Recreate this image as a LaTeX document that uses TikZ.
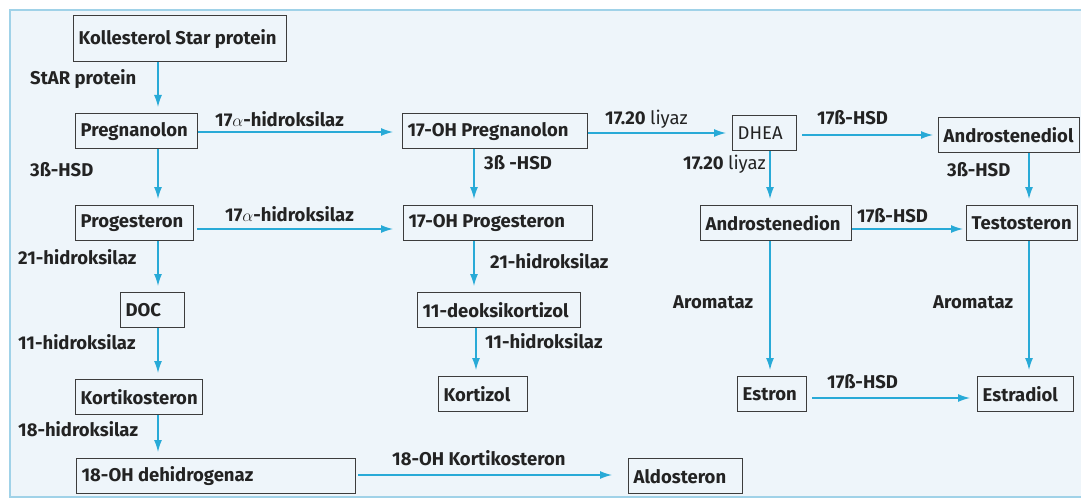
\documentclass[tikz,border=0pt]{standalone}
\usepackage{fontspec}
\setmainfont{Fira Sans}
\usetikzlibrary{arrows.meta}
\definecolor{panel}{RGB}{238,245,250}
\definecolor{framec}{RGB}{160,210,232}
\definecolor{arrblue}{RGB}{40,170,215}
\definecolor{boxline}{RGB}{60,60,60}
\definecolor{txt}{RGB}{35,35,35}
\newcommand{\bt}[2]{\makebox[#1pt][l]{#2}}
\begin{document}
\begin{tikzpicture}[x=1pt,y=-1pt,
  every node/.style={font=\fontsize{18.5}{21}\selectfont\bfseries, text=txt},
  bx/.style={draw=boxline, line width=1.3pt, fill=panel, anchor=north west, inner xsep=5pt, inner ysep=0pt, minimum height=35pt},
  lab/.style={anchor=base west, inner sep=0pt},
  arr/.style={draw=arrblue, line width=1.3pt, -{Latex[length=12pt,width=8pt]}, shorten >=6pt}]
\useasboundingbox (0,0) rectangle (1081,500);
\clip (0,0) rectangle (1081,500);
\fill[white] (0,0) rectangle (1081,500);
\draw[framec, line width=2pt, fill=panel] (10,10) rectangle (1100,497);
% columns and rows
\coordinate (c1) at (158,0);
\coordinate (c2) at (474,0);
\coordinate (c2b) at (476,0);
\coordinate (c3) at (770,0);
\coordinate (c4) at (1029,0);
\coordinate (r1) at (0,132);
\coordinate (r1b) at (0,133);
\coordinate (r1c) at (0,135);
\coordinate (r2) at (0,229);
\coordinate (r3) at (0,398);
\coordinate (r4) at (0,475);
% boxes
\node[bx, minimum height=46pt] (kol) at (73,15) {\bt{203}{Kollesterol Star protein}};
\node[bx] (preg) at (75,113) {\bt{112}{Pregnanolon}};
\node[bx] (ohpreg) at (402,113) {\bt{175}{17-OH Pregnanolon}};
\node[bx] (dhea) at (732,115) {\bt{54}{\mdseries DHEA}};
\node[bx] (adiol) at (938,117) {\bt{131}{Androstenediol}};
\node[bx] (prog) at (75,205) {\bt{108}{Progesteron}};
\node[bx] (ohprog) at (403,205) {\bt{179}{17-OH Progesteron}};
\node[bx] (adion) at (700,205) {\bt{141}{Androstenedion}};
\node[bx] (testo) at (966,205) {\bt{101}{Testosteron}};
\node[bx] (doc) at (120,292) {\bt{54}{DOC}};
\node[bx] (deoks) at (417,292) {\bt{153}{11-deoksikortizol}};
\node[bx] (korti) at (75,379) {\bt{117}{Kortikosteron}};
\node[bx] (kortizol) at (438,376) {\bt{79}{Kortizol}};
\node[bx] (estron) at (737,376) {\bt{59}{Estron}};
\node[bx] (estradiol) at (977,376) {\bt{86}{Estradiol}};
\node[bx] (ohdeh) at (76,458) {\bt{269}{18-OH dehidrogenaz}};
\node[bx] (aldo) at (628,458) {\bt{104}{Aldosteron}};
% arrows
\draw[arr] (kol.south -| c1) -- (preg.north -| c1);
\draw[arr] (preg.south -| c1) -- (prog.north -| c1);
\draw[arr] (prog.south -| c1) -- (doc.north -| c1);
\draw[arr] (doc.south -| c1) -- (korti.north -| c1);
\draw[arr] (korti.south -| c1) -- (ohdeh.north -| c1);
\draw[arr] (ohpreg.south -| c2) -- (ohprog.north -| c2);
\draw[arr] (ohprog.south -| c2) -- (deoks.north -| c2);
\draw[arr] (deoks.south -| c2b) -- (kortizol.north -| c2b);
\draw[arr] (dhea.south -| c3) -- (adion.north -| c3);
\draw[arr] (adion.south -| c3) -- (estron.north -| c3);
\draw[arr] (adiol.south -| c4) -- (testo.north -| c4);
\draw[arr] (testo.south -| c4) -- (estradiol.north -| c4);
\draw[arr, shorten >=9pt] (preg.east |- r1) -- (ohpreg.west |- r1);
\draw[arr] (ohpreg.east |- r1b) -- (dhea.west |- r1b);
\draw[arr, shorten <=5pt, shorten >=5pt] (dhea.east |- r1c) -- (adiol.west |- r1c);
\draw[arr, shorten <=3pt, shorten >=10pt] (prog.east |- r2) -- (ohprog.west |- r2);
\draw[arr, shorten >=3pt] (adion.east |- r2) -- (testo.west |- r2);
\draw[arr, shorten <=5pt, shorten >=7pt] (estron.east |- r3) -- (estradiol.west |- r3);
\draw[arr, shorten <=2pt, shorten >=16pt] (ohdeh.east |- r4) -- (aldo.west |- r4);
% labels
\node[lab] (l1) at (30,84.5) {StAR protein};
\node[lab] (l2) at (215,126.5) {17$\alpha$-hidroksilaz};
\node[lab] (l3) at (605,124.5) {17.20 \mdseries liyaz};
\node[lab] (l4) at (817,124.5) {17ß-HSD};
\node[lab] (l5) at (30,176.5) {3ß-HSD};
\node[lab] (l6) at (484,169.5) {3ß -HSD};
\node[lab] (l7) at (683,169.5) {17.20 \mdseries liyaz};
\node[lab] (l8) at (947,176.5) {3ß-HSD};
\node[lab] (l9) at (225,221.5) {17$\alpha$-hidroksilaz};
\node[lab] (l10) at (857,222.5) {17ß-HSD};
\node[lab] (l11) at (18,264.5) {21-hidroksilaz};
\node[lab] (l12) at (490,268.5) {21-hidroksilaz};
\node[lab] (l13) at (673,308.5) {Aromataz};
\node[lab] (l14) at (933,308.5) {Aromataz};
\node[lab] (l15) at (18,349.5) {11-hidroksilaz};
\node[lab] (l16) at (485,348.5) {11-hidroksilaz};
\node[lab] (l17) at (827,388.5) {17ß-HSD};
\node[lab] (l18) at (18,436.5) {18-hidroksilaz};
\node[lab] (l19) at (392,465.5) {18-OH Kortikosteron};
\end{tikzpicture}
\end{document}
